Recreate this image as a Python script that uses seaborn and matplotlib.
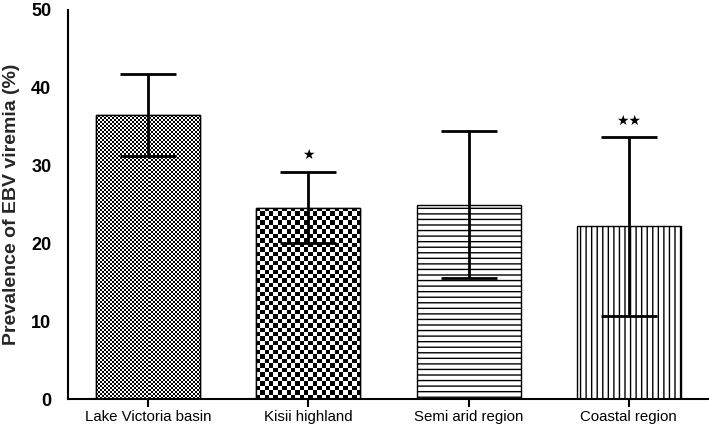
import numpy as np
import pandas as pd
import matplotlib
matplotlib.use("Agg")
import matplotlib.pyplot as plt
import seaborn as sns

categories = ["Lake Victoria basin", "Kisii highland", "Semi arid region", "Coastal region"]
prevalence = [36.5, 24.6, 25.0, 22.2]
errors = [5.3, 4.6, 9.5, 11.5]
stars = ["", "★", "", "★★"]
star_y = [None, 31.4, None, 35.8]
yticks = [0, 10, 20, 30, 40, 50]

sns.set_theme(style="white")
plt.rcParams['font.family'] = ['Liberation Sans', 'DejaVu Sans']
plt.rcParams['hatch.linewidth'] = 1.0

df = pd.DataFrame({"region": categories, "prev": prevalence})

fig = plt.figure(figsize=(7.09, 4.30), dpi=100)
ax = fig.add_axes([68/709, 1 - 399/430, 641/709, 389/430])

sns.barplot(data=df, x="region", y="prev", ax=ax, color="white",
            edgecolor="black", linewidth=1.0, width=0.65, errorbar=None)

ax.set_xlim(-0.5, 3.5)
ax.set_ylim(0, 50)
ax.set_autoscale_on(False)

patches = list(ax.patches)
hatches = [None, None, "---", "|||"]
for p, h in zip(patches, hatches):
    if h:
        p.set_hatch(h)

fig.canvas.draw()
extents = [p.get_window_extent() for p in patches]

cell_px = {0: 2.0, 1: 4.4}
for i, p in enumerate(patches):
    if i in cell_px:
        bb = extents[i]
        nx = max(2, int(round(bb.width / cell_px[i])))
        ny = max(2, int(round(bb.height / cell_px[i])))
        img = (np.indices((ny, nx)).sum(axis=0) % 2).astype(float)
        x0, x1 = p.get_x(), p.get_x() + p.get_width()
        y1 = p.get_height()
        im = ax.imshow(img, cmap="gray", vmin=0, vmax=1, interpolation="nearest",
                       extent=(x0, x1, 0, y1), aspect="auto", zorder=p.get_zorder() + 0.1,
                       origin="lower")
        im.set_clip_path(p)
        ax.add_patch(plt.Rectangle((x0, 0), p.get_width(), y1, fill=False,
                                   edgecolor="black", linewidth=1.0,
                                   zorder=p.get_zorder() + 0.2))

xpos = np.arange(len(categories))
ax.errorbar(xpos, prevalence, yerr=errors, fmt="none", ecolor="black",
            elinewidth=2.0, capsize=20, capthick=2.0, zorder=5)

for x, s, y in zip(xpos, stars, star_y):
    if s:
        ax.text(x, y, s, ha="center", va="center", fontsize=10,
                family=["DejaVu Sans"], color="black")

ax.set_xlim(-0.5, 3.5)
ax.set_ylim(0, 50)
ax.set_yticks(yticks)
ax.set_yticklabels([str(v) for v in yticks], fontweight="bold", fontsize=13)
ax.set_xlabel("")
ax.set_ylabel("Prevalence of EBV viremia (%)", fontweight="bold", fontsize=14, labelpad=8)
ax.tick_params(axis="x", labelsize=10.8, length=6, width=1.5, direction="out",
               bottom=True, colors="black", pad=2)
ax.tick_params(axis="y", length=0, pad=12, colors="black")

for side in ["top", "right"]:
    ax.spines[side].set_visible(False)
for side in ["left", "bottom"]:
    ax.spines[side].set_color("black")
    ax.spines[side].set_linewidth(1.5)

fig.savefig("out.png", dpi=100)
